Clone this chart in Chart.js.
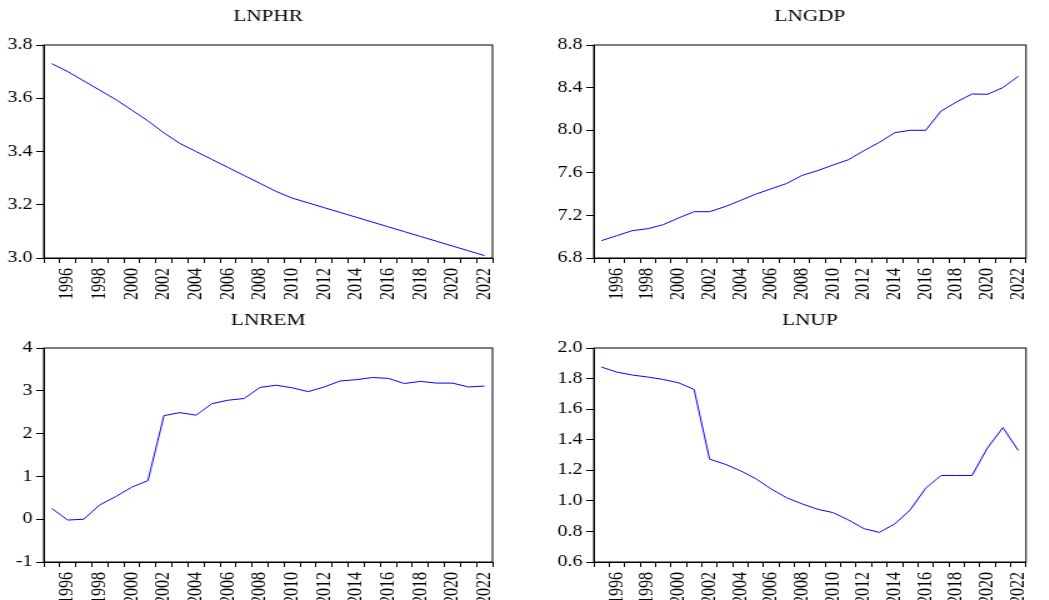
<!DOCTYPE html>
<html>
<head>
<meta charset="utf-8">
<script src="https://cdn.jsdelivr.net/npm/chart.js@4"></script>
<style>
body { margin: 0; background: #fff; }
#wrap { position: relative; width: 1049px; height: 600px; overflow: hidden; background: #fff; }
canvas { position: absolute; transform: scaleX(1.25); transform-origin: 0 0; }
</style>
</head>
<body>
<div id="wrap">
  <canvas id="c1" width="420" height="300" style="left:0;top:0"></canvas>
  <canvas id="c2" width="423" height="300" style="left:520px;top:0"></canvas>
  <canvas id="c3" width="420" height="300" style="left:0;top:300px"></canvas>
  <canvas id="c4" width="423" height="300" style="left:520px;top:300px"></canvas>
</div>
<script>
const years = ['1995','1996','1997','1998','1999','2000','2001','2002','2003','2004',
  '2005','2006','2007','2008','2009','2010','2011','2012','2013','2014',
  '2015','2016','2017','2018','2019','2020','2021','2022'];

const lnphr = [3.73, 3.70, 3.665, 3.63, 3.595, 3.555, 3.515, 3.47, 3.43, 3.40,
  3.37, 3.34, 3.31, 3.28, 3.25, 3.225, 3.207, 3.189, 3.171, 3.153,
  3.135, 3.117, 3.099, 3.081, 3.063, 3.045, 3.027, 3.009];

const lngdp = [6.963, 7.01, 7.057, 7.075, 7.113, 7.176, 7.235, 7.235, 7.282, 7.34,
  7.40, 7.45, 7.50, 7.576, 7.62, 7.673, 7.723, 7.808, 7.886, 7.977,
  7.999, 7.999, 8.18, 8.265, 8.34, 8.337, 8.40, 8.506];

const lnrem = [0.25, -0.02, 0.0, 0.336, 0.53, 0.75, 0.90, 2.42, 2.49, 2.43,
  2.70, 2.78, 2.82, 3.08, 3.13, 3.07, 2.98, 3.09, 3.23, 3.26,
  3.31, 3.29, 3.17, 3.22, 3.18, 3.18, 3.09, 3.11];

const lnup = [1.875, 1.842, 1.823, 1.81, 1.794, 1.772, 1.729, 1.273, 1.24, 1.197,
  1.145, 1.077, 1.02, 0.98, 0.945, 0.923, 0.875, 0.818, 0.794, 0.849,
  0.941, 1.083, 1.166, 1.166, 1.166, 1.346, 1.479, 1.33];

Chart.defaults.font.family = '"Liberation Serif", "Times New Roman", serif';
Chart.defaults.color = '#000';

// box round the plot area + title centred over it
const boxTitle = {
  id: 'boxTitle',
  afterDraw(chart, args, opts) {
    const a = chart.chartArea, ctx = chart.ctx;
    ctx.save();
    ctx.strokeStyle = '#000';
    ctx.lineWidth = 1;
    ctx.strokeRect(a.left, a.top, a.right - a.left, a.bottom - a.top);
    ctx.fillStyle = '#000';
    ctx.font = '17px "Liberation Serif", serif';
    ctx.textAlign = 'center';
    ctx.textBaseline = 'middle';
    ctx.fillText(opts.text, (a.left + a.right) / 2, opts.y);
    ctx.restore();
  }
};

function panel(id, title, values, yMin, yMax, step, dec, yWidth, padRight, padTop, xHeight, titleY) {
  new Chart(document.getElementById(id), {
    type: 'line',
    data: {
      labels: years,
      datasets: [{
        data: values,
        borderColor: '#0000ff',
        borderWidth: 1,
        pointRadius: 0,
        tension: 0,
        fill: false
      }]
    },
    options: {
      responsive: false,
      animation: false,
      layout: { padding: { left: 0, right: padRight, top: padTop, bottom: 0 } },
      plugins: {
        legend: { display: false },
        tooltip: { enabled: false },
        boxTitle: { text: title, y: titleY }
      },
      scales: {
        x: {
          offset: true,
          grid: { display: true, drawOnChartArea: false, drawTicks: true, tickLength: 5, offset: true, color: '#000' },
          border: { display: true, color: '#000' },
          ticks: {
            autoSkip: false,
            minRotation: 90,
            maxRotation: 90,
            padding: 5,
            font: { size: 16 },
            callback: function (v, i) { return (+years[i]) % 2 === 0 ? years[i] : ''; }
          },
          afterFit: function (s) { s.height = xHeight; }
        },
        y: {
          min: yMin,
          max: yMax,
          grid: { display: true, drawOnChartArea: false, drawTicks: true, tickLength: 6, color: '#000' },
          border: { display: true, color: '#000' },
          ticks: {
            stepSize: step,
            padding: 3,
            font: { size: 16 },
            callback: function (v) { return v.toFixed(dec); }
          },
          afterFit: function (s) { s.width = yWidth; }
        }
      }
    },
    plugins: [boxTitle]
  });
}

panel('c1', 'LNPHR', lnphr, 3.0, 3.8, 0.2, 1, 35, 26, 45, 42, 17);
panel('c2', 'LNGDP', lngdp, 6.8, 8.8, 0.4, 1, 59, 9, 45, 42, 17);
panel('c3', 'LNREM', lnrem, -1, 4, 1, 0, 35, 26, 48, 38, 21);
panel('c4', 'LNUP', lnup, 0.6, 2.0, 0.2, 1, 59, 9, 48, 38, 21);
</script>
</body>
</html>
